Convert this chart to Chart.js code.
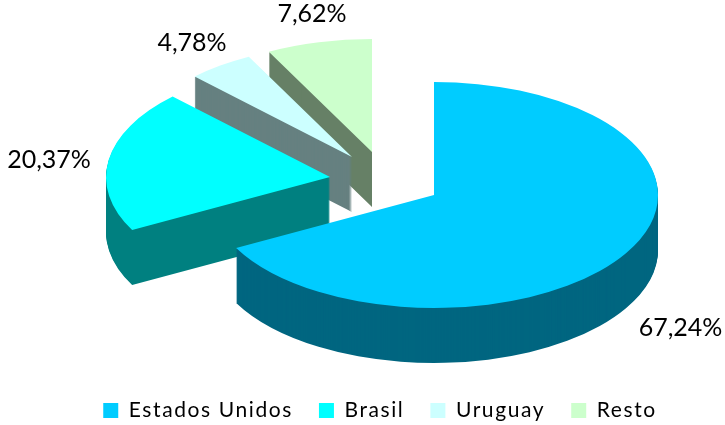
<!DOCTYPE html>
<html>
<head>
<meta charset="utf-8">
<style>html,body{margin:0;padding:0;background:#fff}#wrap{width:725px;height:425px}</style>
<script src="https://cdn.jsdelivr.net/npm/chart.js@4"></script>
</head>
<body>
<div id="wrap"><canvas id="c" width="725" height="425"></canvas></div>
<script>
const categories = ['Estados Unidos', 'Brasil', 'Uruguay', 'Resto'];
const shares = [67.24, 20.37, 4.78, 7.62];
const shareLabels = ['67,24%', '20,37%', '4,78%', '7,62%'];
const topColors = ['#00CCFF', '#00FFFF', '#CCFFFF', '#CCFFCC'];
const sideColors = ['#006680', '#008080', '#668080', '#668066'];

// 3D look: offsets of each exploded slice and of its label from the pie centre
const explodeX = [0, -104, -82, -62];
const explodeY = [0, -18, -38, -43];
const labelX = [246.5, -385, -242, -122];
const labelY = [133, -35, -152, -181];
const centreShiftX = 55, centreShiftY = 11;
const legendShiftX = 1, legendShiftY = 6;
const tilt = 113 / 224, depth = 55;
const drawOrder = [3, 2, 1, 0];

const pie3d = {
  id: 'pie3d',
  beforeUpdate(chart) { chart.ctx.letterSpacing = '1.6px'; },
  afterLayout(chart) {
    chart.legend.top += legendShiftY;
    chart.legend.bottom += legendShiftY;
    chart.legend.left += legendShiftX;
    chart.legend.right += legendShiftX;
  },
  beforeDatasetsDraw(chart) {
    const ctx = chart.ctx;
    const arcs = chart.getDatasetMeta(0).data;
    for (const i of drawOrder) {
      const arc = arcs[i];
      const base = arc.options;
      const put = (dy) => {
        ctx.save();
        ctx.translate(arc.x + centreShiftX + explodeX[i], arc.y + centreShiftY + explodeY[i] + dy);
        ctx.scale(1, tilt);
        ctx.translate(-arc.x, -arc.y);
        arc.draw(ctx);
        ctx.restore();
      };
      arc.options = Object.assign({}, base, { backgroundColor: sideColors[i] });
      for (let d = depth; d > 0; d--) put(d);
      arc.options = base;
      put(0);
    }
    ctx.save();
    ctx.letterSpacing = '0px';
    ctx.font = '25px Lato';
    ctx.fillStyle = '#000';
    ctx.textAlign = 'center';
    ctx.textBaseline = 'middle';
    shareLabels.forEach((t, i) => {
      ctx.fillText(t, arcs[i].x + centreShiftX + labelX[i], arcs[i].y + centreShiftY + labelY[i]);
    });
    ctx.restore();
    return false;
  }
};

new Chart(document.getElementById('c'), {
  type: 'pie',
  data: {
    labels: categories,
    datasets: [{ data: shares, backgroundColor: topColors, borderWidth: 0, radius: 224 }]
  },
  options: {
    responsive: false,
    animation: false,
    layout: { padding: { left: 33, right: 0, top: 0, bottom: 0 } },
    plugins: {
      tooltip: { enabled: false },
      legend: {
        position: 'bottom',
        labels: {
          boxWidth: 15, boxHeight: 15, padding: 26,
          color: '#000',
          font: { family: 'Lato', size: 21 }
        }
      }
    }
  },
  plugins: [pie3d]
});
</script>
</body>
</html>
